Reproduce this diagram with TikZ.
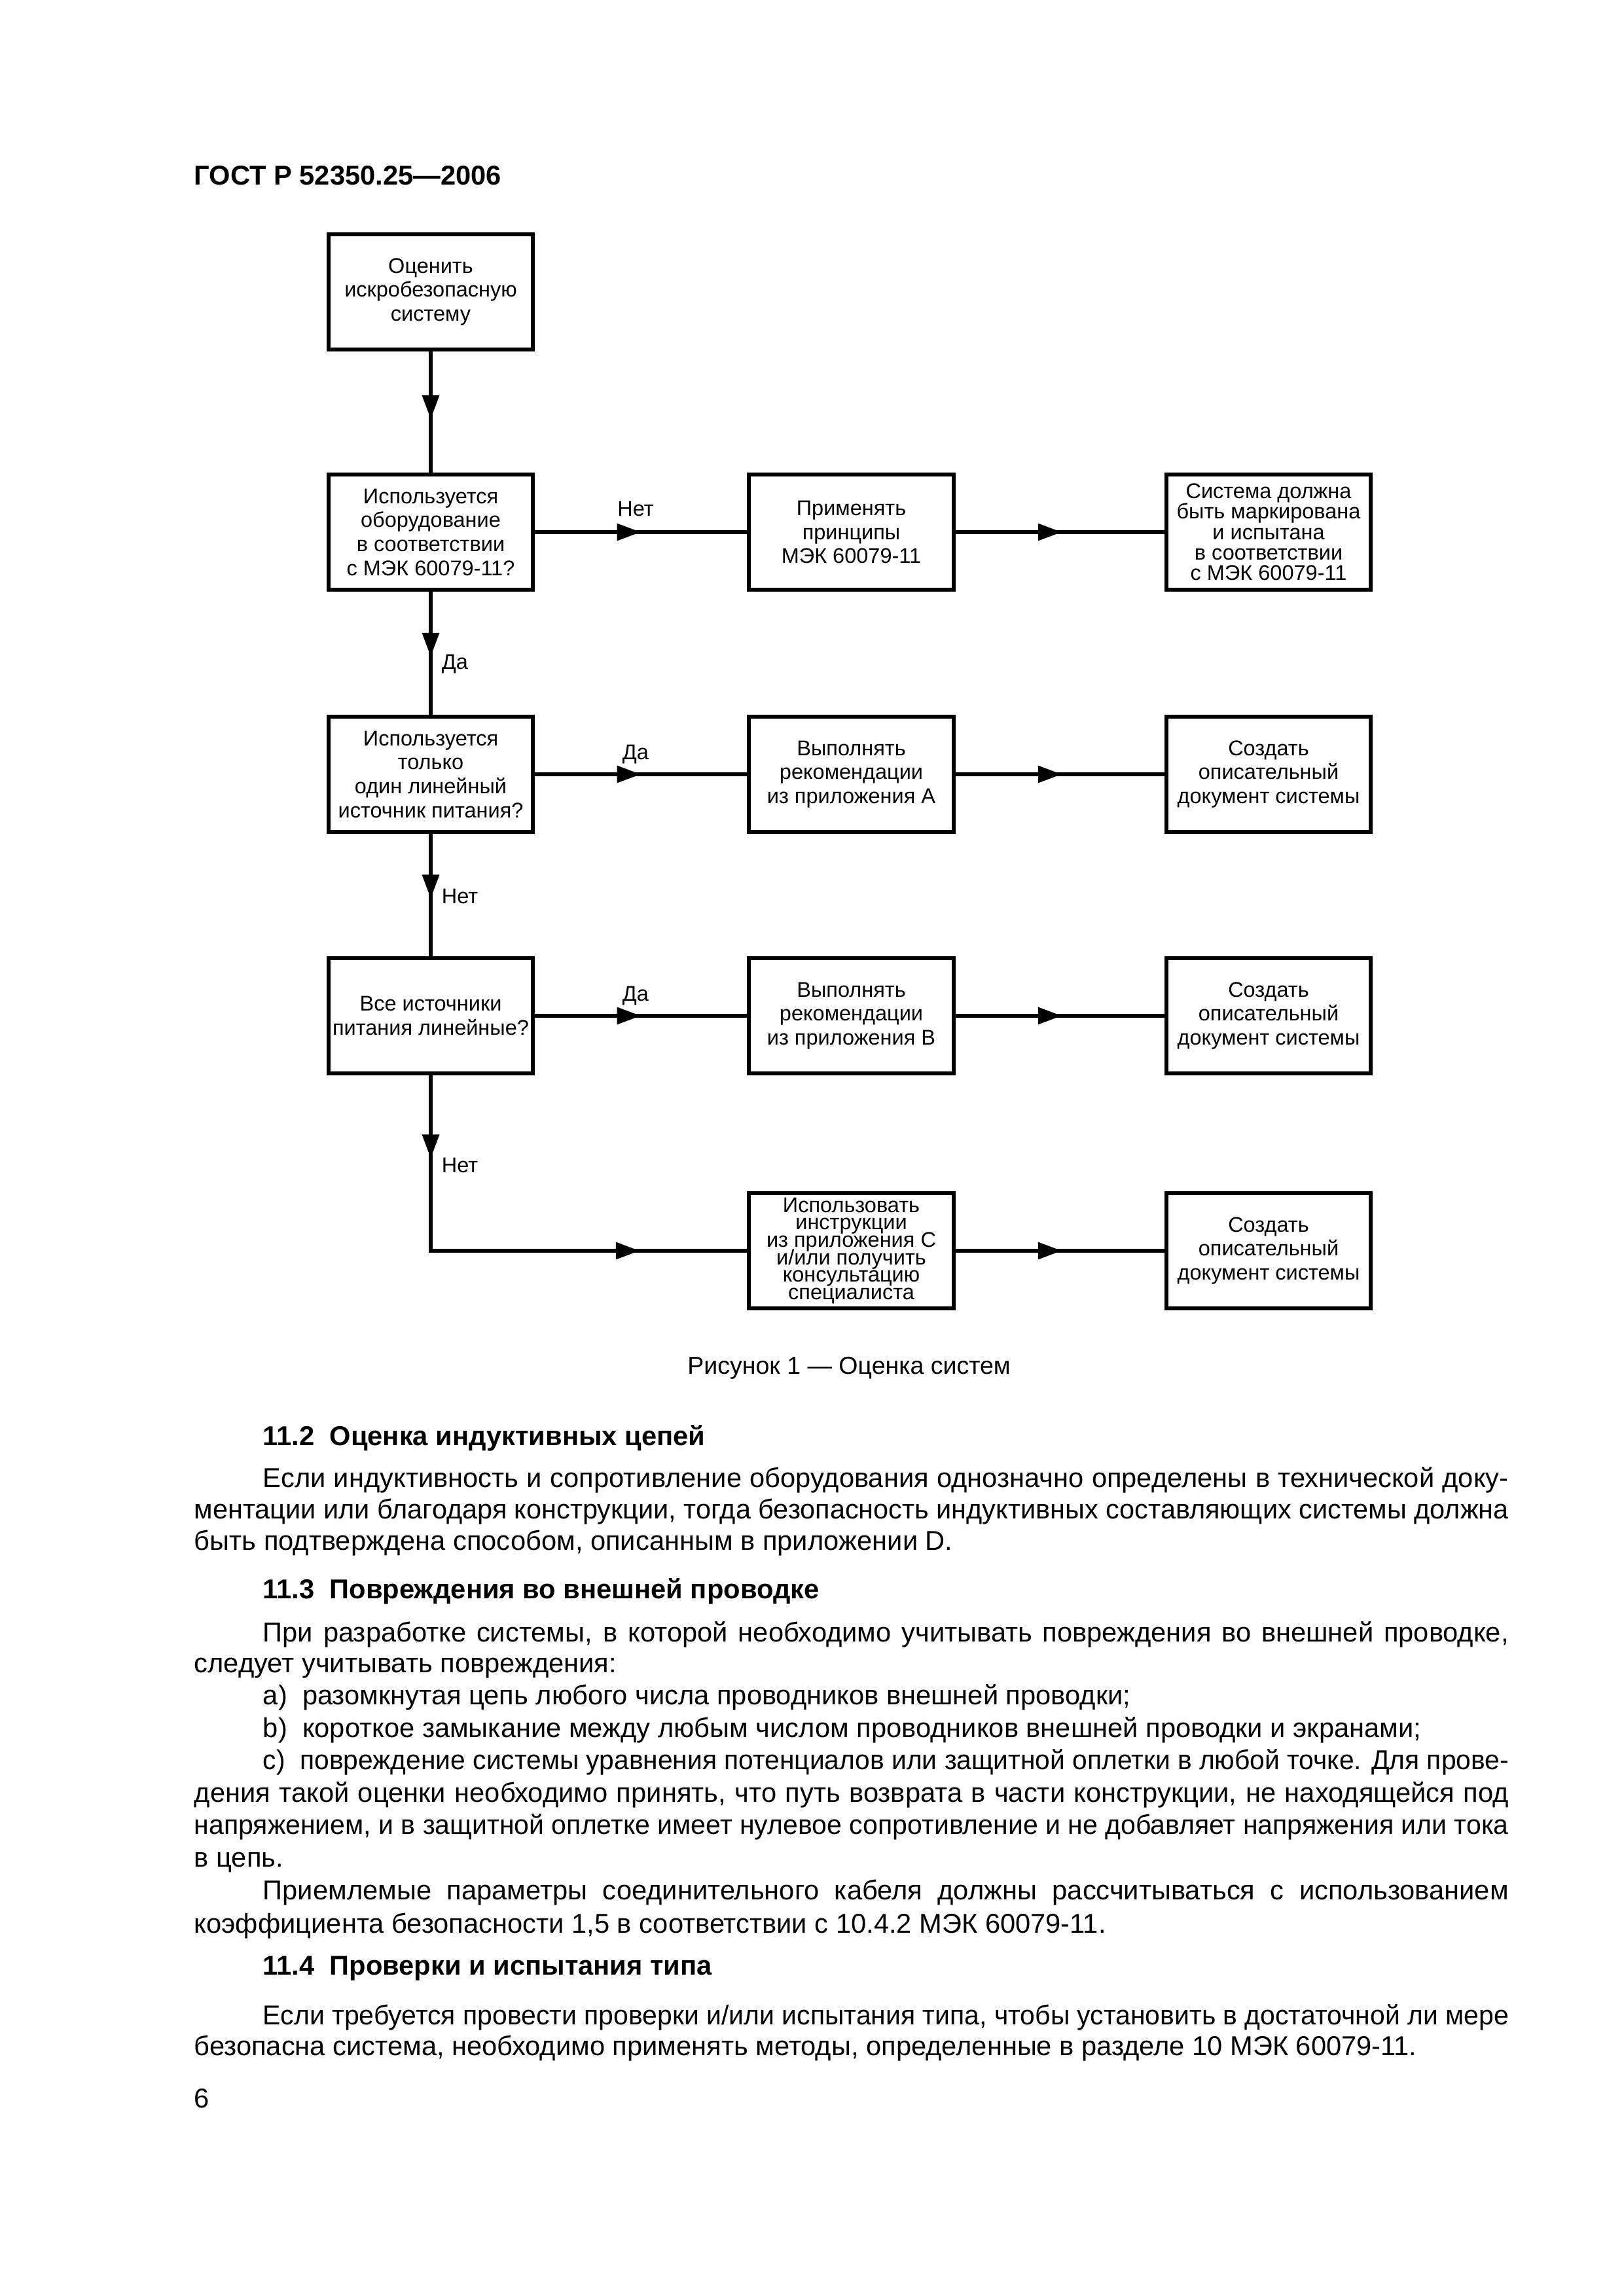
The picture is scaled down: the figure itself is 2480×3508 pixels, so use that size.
\documentclass[tikz,border=0pt]{standalone}
\usepackage{fontspec}
\setmainfont{Liberation Sans}
\usepackage{graphicx}
\usetikzlibrary{arrows.meta,decorations.markings}
\newcommand\boxfont{\fontsize{7.8}{8.8}\selectfont}
\newcommand\bodyfont{\fontsize{10}{12}\selectfont}
\newcommand\tightfont[1]{\fontsize{7.8}{#1}\selectfont\lineskiplimit=-20pt\relax}
\newcommand\tri{\arrow{Triangle[length=8.8pt,width=6pt]}}
\newcommand\jline[2]{\sbox0{#2}\ifdim\wd0>#1\relax\resizebox{#1}{\height}{#2}\else\makebox[#1][s]{#2}\fi}
\newlength\fullw \setlength\fullw{481.9pt}
\newlength\indw \setlength\indw{456.7pt}
\tikzset{
  box/.style={draw, line width=1.5pt, minimum width=75.0pt, minimum height=42.2pt,
    inner sep=0pt, align=center, font=\boxfont},
  conn/.style={line width=1.5pt},
  midarr/.style={postaction={decorate}, decoration={markings, mark=at position #1 with {\tri}}},
  lbl/.style={font=\boxfont, inner sep=0pt},
  txt/.style={font=\bodyfont, inner sep=0pt, anchor=base west},
  hdg/.style={font=\bodyfont\bfseries, inner sep=0pt, anchor=base west},
}
\begin{document}
\begin{tikzpicture}[x=0.24pt,y=-0.24pt]
\useasboundingbox (0,0) rectangle (2480,3508);
\fill[white] (0,0) rectangle (2480,3508);

% header
\node[hdg] (header) at (296,283) {ГОСТ Р 52350.25—2006};

% column 1
\node[box] (b1) at (658,446) {Оценить\\искробезопасную\\систему};
\node[box] (b2) at (658,813) {Используется\\оборудование\\в соответствии\\с МЭК 60079-11?};
\node[box] (b3) at (658,1183) {Используется\\только\\один линейный\\источник питания?};
\node[box] (b4) at (658,1552) {Все источники\\питания линейные?};
\coordinate (corner) at (658,1911);

% column 2
\node[box] (m2) at (1300.5,813) {Применять\\принципы\\МЭК 60079-11};
\node[box] (m3) at (1300.5,1183) {Выполнять\\рекомендации\\из приложения A};
\node[box] (m4) at (1300.5,1552) {Выполнять\\рекомендации\\из приложения B};
\node[box, font=\tightfont{6.4pt}] (m5) at (1300.5,1911) {Использовать\\инструкции\\из приложения C\\и/или получить\\консультацию\\специалиста};

% column 3
\node[box, font=\tightfont{7.5pt}] (r2) at (1938,813) {Система должна\\быть маркирована\\и испытана\\в соответствии\\с МЭК 60079-11};
\node[box] (r3) at (1938,1183) {Создать\\описательный\\документ системы};
\node[box] (r4) at (1938,1552) {Создать\\описательный\\документ системы};
\node[box] (r5) at (1938,1911) {Создать\\описательный\\документ системы};

% connectors
\draw[conn, midarr=0.56] (b1.south) -- (b2.north);
\draw[conn, midarr=0.53] (b2.south) -- (b3.north);
\draw[conn, midarr=0.53] (b3.south) -- (b4.north);
\draw[conn, line join=miter, postaction={decorate}, decoration={markings,
  mark=at position 30.5pt with {\tri}, mark=at position 141pt with {\tri}}]
  (b4.south) -- (corner) -- (m5.west);
\draw[conn, midarr=0.5] (b2.east) -- (m2.west);
\draw[conn, midarr=0.5] (b3.east) -- (m3.west);
\draw[conn, midarr=0.5] (b4.east) -- (m4.west);
\draw[conn, midarr=0.51] (m2.east) -- (r2.west);
\draw[conn, midarr=0.51] (m3.east) -- (r3.west);
\draw[conn, midarr=0.51] (m4.east) -- (r4.west);
\draw[conn, midarr=0.51] (m5.east) -- (r5.west);

% labels
\node[lbl, anchor=base] (l1) at (971,788.6) {Нет};
\node[lbl, anchor=base west] (l2) at (674,1022.6) {Да};
\node[lbl, anchor=base] (l3) at (971,1160.6) {Да};
\node[lbl, anchor=base west] (l4) at (674,1380.6) {Нет};
\node[lbl, anchor=base] (l5) at (971,1529.2) {Да};
\node[lbl, anchor=base west] (l6) at (674,1791.6) {Нет};

% caption
\node[font=\fontsize{9}{11}\selectfont, inner sep=0pt, anchor=base] (cap) at (1297,2099) {Рисунок 1 — Оценка систем};

% body text
\node[hdg] (h2) at (401,2208) {11.2\ \ Оценка индуктивных цепей};
\node[txt] (t1) at (401,2272) {\jline{\indw}{Если индуктивность и сопротивление оборудования однозначно определены в технической доку-}};
\node[txt] (t2) at (296,2320) {\jline{\fullw}{ментации или благодаря конструкции, тогда безопасность индуктивных составляющих системы должна}};
\node[txt] (t3) at (296,2368) {быть подтверждена способом, описанным в приложении D.};
\node[hdg] (h3) at (401,2442) {11.3\ \ Повреждения во внешней проводке};
\node[txt] (t4) at (401,2508) {\jline{\indw}{При разработке системы, в которой необходимо учитывать повреждения во внешней проводке,}};
\node[txt] (t5) at (296,2555) {следует учитывать повреждения:};
\node[txt] (t6) at (401,2604.5) {a)\ \ разомкнутая цепь любого числа проводников внешней проводки;};
\node[txt] (t7) at (401,2654) {b)\ \ короткое замыкание между любым числом проводников внешней проводки и экранами;};
\node[txt] (t8) at (401,2703.5) {\jline{\indw}{c)\ \ повреждение системы уравнения потенциалов или защитной оплетки в любой точке. Для прове-}};
\node[txt] (t9) at (296,2753) {\jline{\fullw}{дения такой оценки необходимо принять, что путь возврата в части конструкции, не находящейся под}};
\node[txt] (t10) at (296,2802.5) {\jline{\fullw}{напряжением, и в защитной оплетке имеет нулевое сопротивление и не добавляет напряжения или тока}};
\node[txt] (t11) at (296,2852) {в цепь.};
\node[txt] (t12) at (401,2902) {\jline{\indw}{Приемлемые параметры соединительного кабеля должны рассчитываться с использованием}};
\node[txt] (t13) at (296,2953) {коэффициента безопасности 1,5 в соответствии с 10.4.2 МЭК 60079-11.};
\node[hdg] (h4) at (401,3017) {11.4\ \ Проверки и испытания типа};
\node[txt] (t14) at (401,3093) {\jline{\indw}{Если требуется провести проверки и/или испытания типа, чтобы установить в достаточной ли мере}};
\node[txt] (t15) at (296,3140) {безопасна система, необходимо применять методы, определенные в разделе 10 МЭК 60079-11.};

% page number
\node[txt] (pg) at (296,3220) {6};
\end{tikzpicture}
\end{document}
